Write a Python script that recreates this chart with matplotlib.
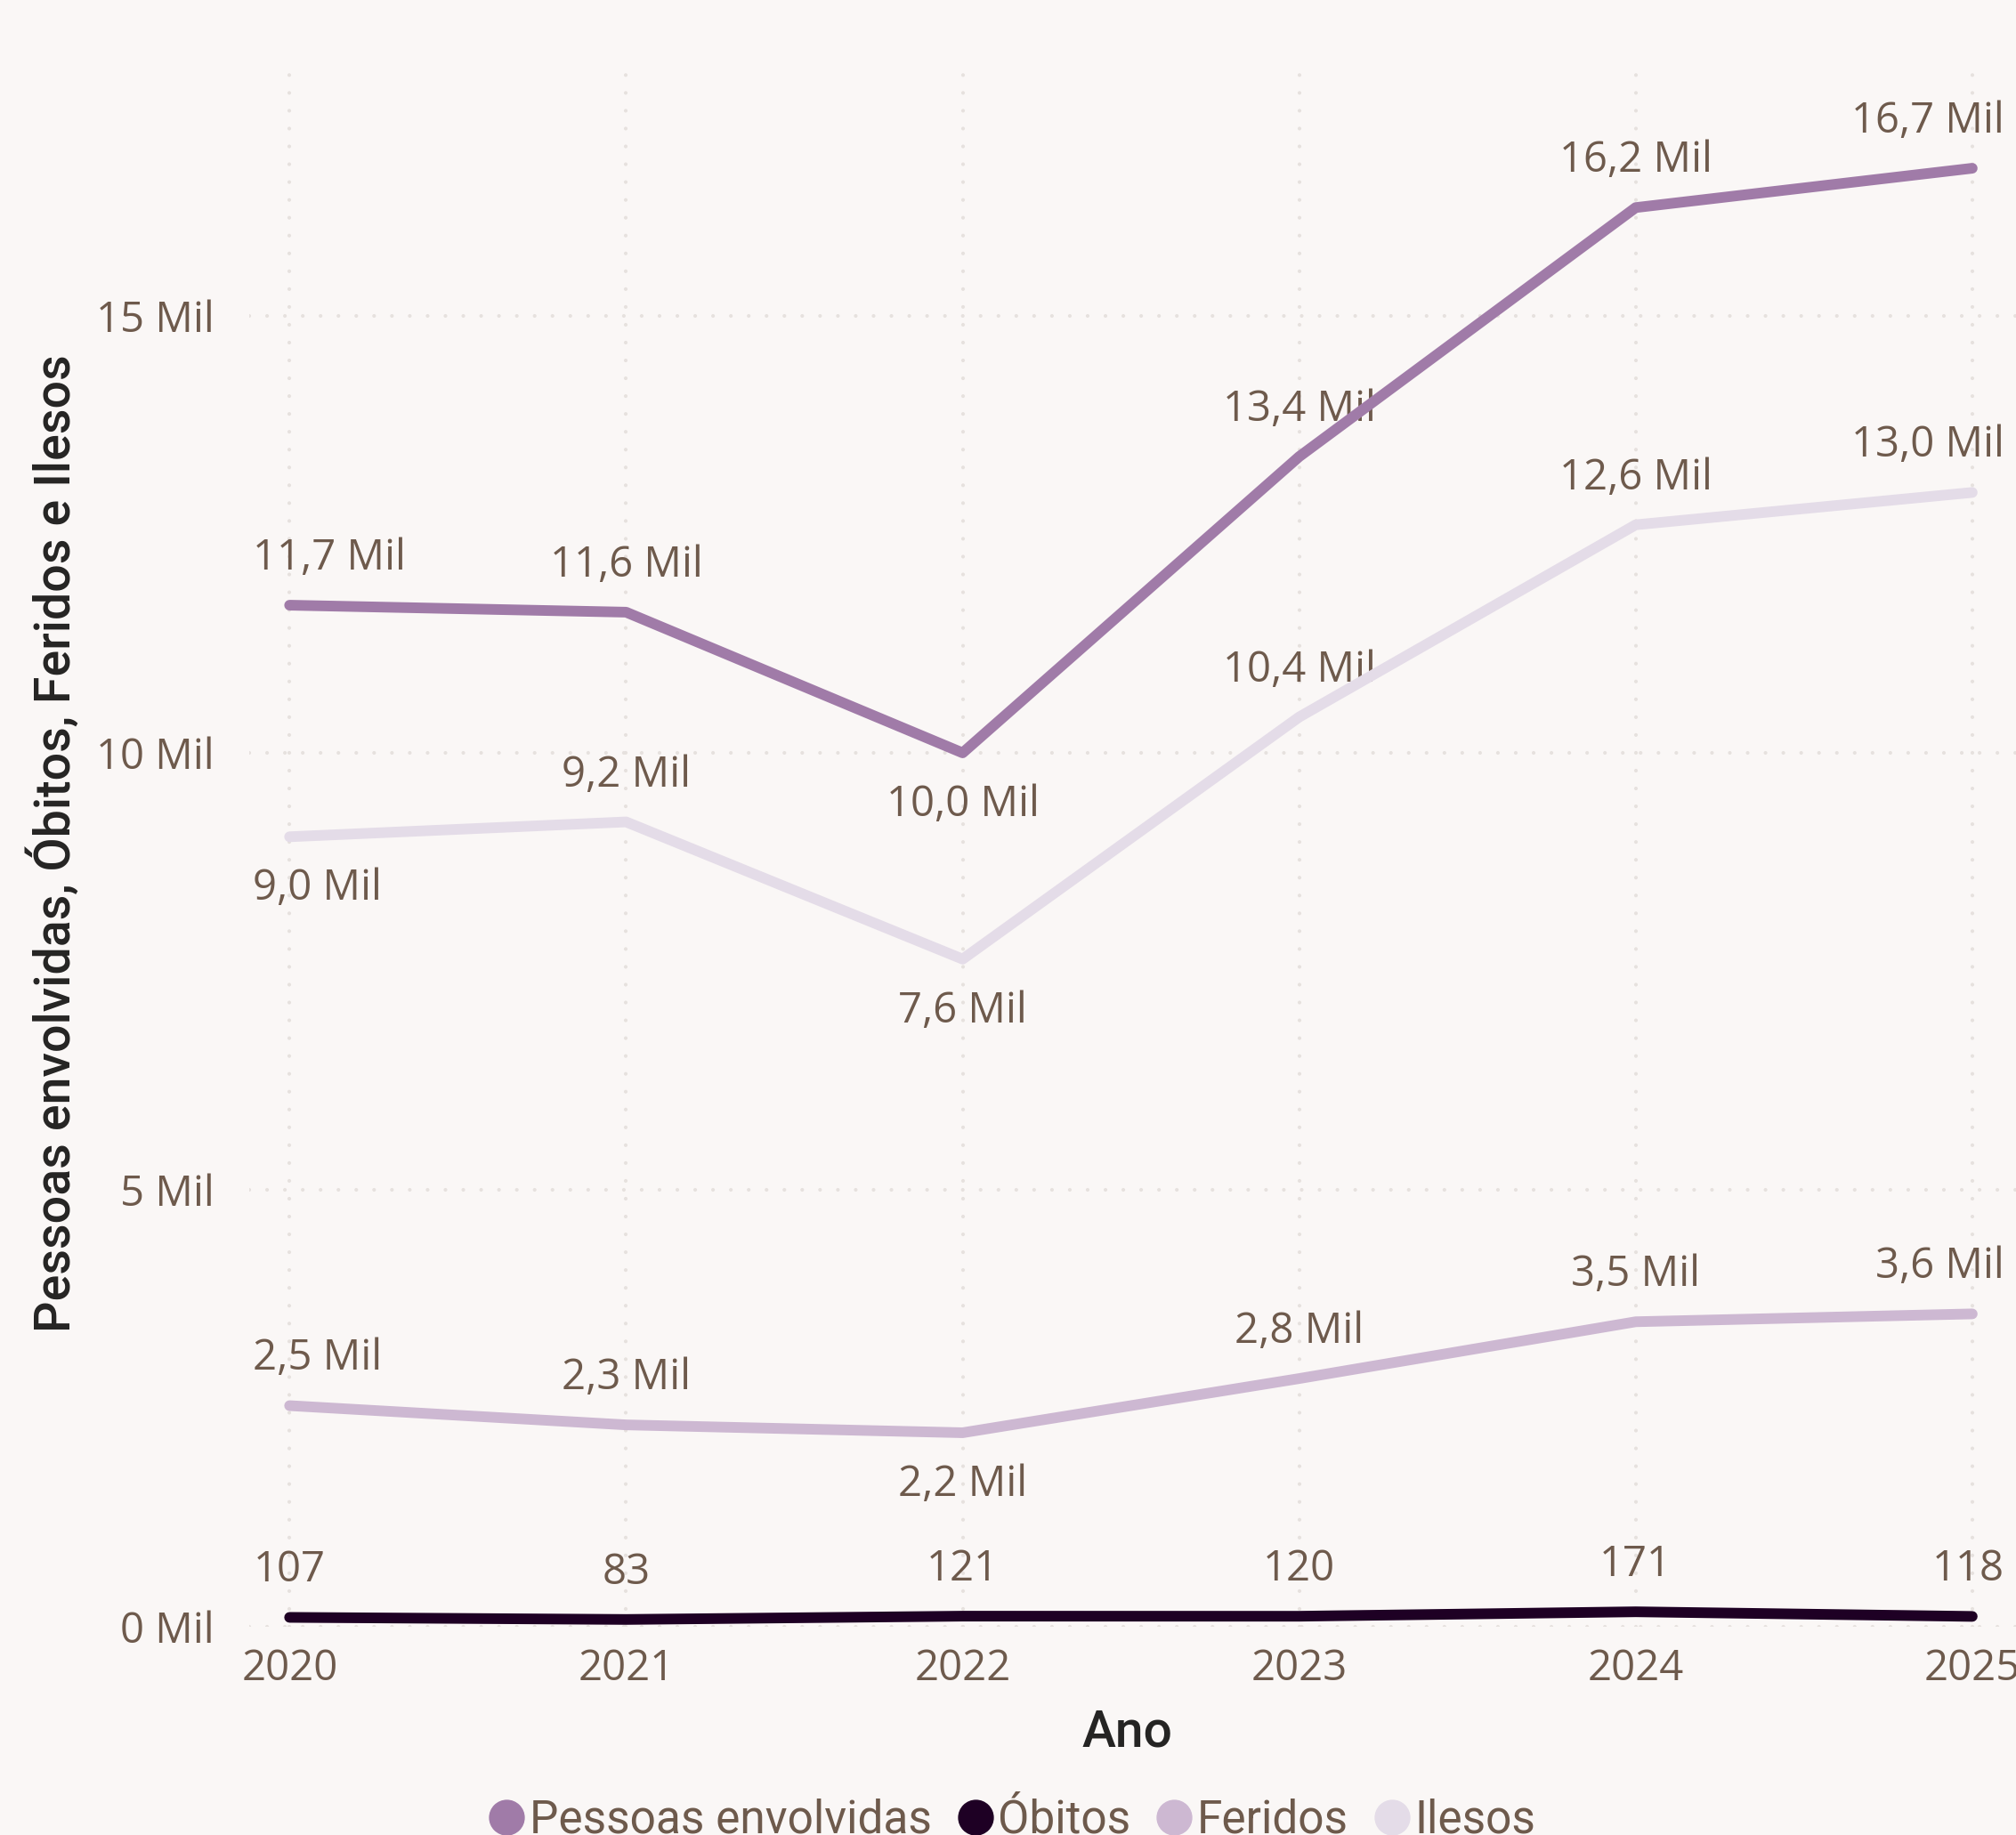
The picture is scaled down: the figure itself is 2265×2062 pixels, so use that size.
import matplotlib
matplotlib.use("Agg")
import matplotlib.pyplot as plt
from matplotlib.lines import Line2D

# data
anos = [2020, 2021, 2022, 2023, 2024, 2025]
pessoas = [11690, 11610, 10000, 13390, 16240, 16690]
obitos = [107, 83, 121, 120, 171, 118]
feridos = [2530, 2310, 2220, 2840, 3490, 3580]
ilesos = [9040, 9210, 7640, 10410, 12610, 12980]
yticks = [0, 5000, 10000, 15000]
yticklabels = ["0 Mil", "5 Mil", "10 Mil", "15 Mil"]

nomes = ["Pessoas envolvidas", "Óbitos", "Feridos", "Ilesos"]
cores = ["#A07BA8", "#1E0024", "#CDB8D2", "#E4DCE8"]
# label side per point: 1 above, -1 below
lado = [
    [1, 1, -1, 1, 1, 1],
    [1, 1, 1, 1, 1, 1],
    [1, 1, -1, 1, 1, 1],
    [-1, 1, -1, 1, 1, 1],
]

BG = "#FAF7F6"
TXT = "#6E5A4C"
TICKFONT = ["Open Sans", "DejaVu Sans"]
TITLEFONT = ["Roboto", "DejaVu Sans"]


def fmt(v):
    if v < 1000:
        return str(int(v))
    return ("%.1f Mil" % (v / 1000)).replace(".", ",")


fig = plt.figure(figsize=(22.65, 20.62), dpi=100, facecolor=BG)
ax = fig.add_axes([0.1236, 0.1135, 0.8764, 0.854], facecolor=BG)

series = [pessoas, obitos, feridos, ilesos]
order = [3, 2, 0, 1]
for i in order:
    ax.plot(anos, series[i], color=cores[i], lw=8.6, solid_capstyle="round",
            solid_joinstyle="round", zorder=3 + (i == 1))

ax.set_xlim(2019.88, 2025.13)
ax.set_ylim(0, 17933)
ax.set_xticks(anos)
ax.set_yticks(yticks)
ax.set_xticklabels([str(a) for a in anos], fontsize=34, color=TXT, family=TICKFONT)
ax.set_yticklabels(yticklabels, fontsize=34, color=TXT, family=TICKFONT)
ax.tick_params(length=0)
ax.tick_params(axis="y", pad=28)
ax.tick_params(axis="x", pad=17)
for s in ax.spines.values():
    s.set_visible(False)
ax.grid(True, color="#E6E1DE", lw=3, linestyle=(0, (0.01, 4.8)),
        dash_capstyle="round", zorder=0)

ax.set_xlabel("Ano", fontsize=41, color="#252423", family=TITLEFONT,
              fontweight="medium", va="center")
ax.xaxis.set_label_coords(0.497, -0.0676)
ax.set_ylabel("Pessoas envolvidas, Óbitos, Feridos e Ilesos", fontsize=40,
              color="#252423", family=TITLEFONT, fontweight="medium", va="center")
ax.yaxis.set_label_coords(-0.111, 0.5)

texts = []
for i, vals in enumerate(series):
    for j, (a, v) in enumerate(zip(anos, vals)):
        off = 38 if lado[i][j] > 0 else -42
        t = ax.annotate(fmt(v), (a, v), xytext=(0, off),
                        textcoords="offset points", ha="center", va="center",
                        fontsize=34, color=TXT, family=TICKFONT, zorder=2)
        texts.append(t)

# keep the edge labels inside the plot like the original
fig.canvas.draw()
r = fig.canvas.get_renderer()
left_lim, right_lim = 284, 2252
for t in texts:
    bb = t.get_window_extent(r)
    ox, oy = t.xyann
    if bb.x0 < left_lim:
        t.xyann = (ox + (left_lim - bb.x0) * 0.72, oy)
    elif bb.x1 > right_lim:
        t.xyann = (ox - (bb.x1 - right_lim) * 0.72, oy)

handles = [Line2D([], [], marker="o", ls="", ms=28, color=c) for c in cores]
fig.legend(handles, nomes, loc="center", bbox_to_anchor=(0.5015, 0.008), ncol=4,
           frameon=False, handletextpad=0.05, columnspacing=0.5, handlelength=0.9,
           prop={"family": TITLEFONT, "size": 37}, labelcolor=TXT)

fig.savefig("out.png", dpi=100, facecolor=BG)
